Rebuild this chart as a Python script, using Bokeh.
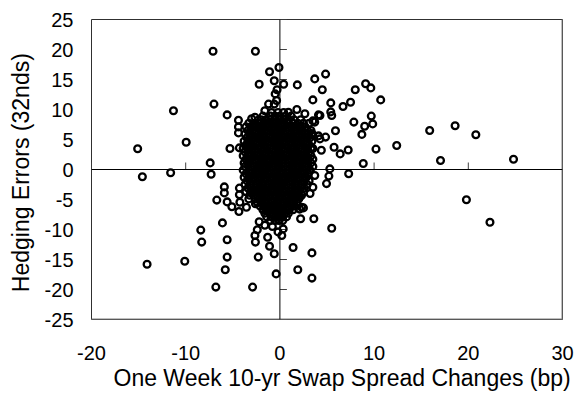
from bokeh.plotting import figure
from bokeh.models import FixedTicker, Span, ColumnDataSource, Title
from bokeh.embed import file_html
from bokeh.resources import INLINE

# ---- data ----
x_ticks = [-20, -10, 0, 10, 20, 30]
y_ticks = [-25, -20, -15, -10, -5, 0, 5, 10, 15, 20, 25]
x_title = "One Week 10-yr Swap Spread Changes (bp)"
y_title = "Hedging Errors  (32nds)"

outer_x = [-7.1, -2.6, -0.1, -1.1, 4.85, 3.7, -2.2, -0.6, 0.4, 1.85,
           9.1, 9.65, 8.0, 4.5, -0.3, 10.7, 3.5, 5.4, 7.5, 6.7,
           -7.0, 5.4, 5.5, -11.3, -5.6, -4.4, -4.4, -4.4, -9.95, -15.1,
           -5.3, -4.3, -7.4, -14.6, -11.6, -7.3, -5.9, -5.9, -4.3, -4.3,
           -6.7, -5.6, -5.1, -4.35, -6.1, -8.4, -8.3, -5.6, -5.6, -5.8,
           -10.1, -14.1, -6.8, 1.8, 2.65, 4.1, 3.5, 7.85, 9.7, 9.85,
           9.0, 8.7, 5.9, 4.1, 4.85, 5.75, 7.25, 6.4, 10.2, 8.85,
           7.3, 5.2, 5.3, 15.9, 12.4, 17.05, 18.6, 20.8, 24.8, 19.8,
           22.3, 4.95, 3.5, 3.2, 3.6, 5.5, 2.5, 2.2, 3.4, 3.4,
           1.9, 1.4, -0.4, -2.9, -2.3, -0.6, -1.1, -1.3, -2.6, -2.65,
           -2.4, -2.2, 0.2, 0.35, -0.2, -0.8, -1.6, 2.1, 2.3, 2.1,
           3.7, -4.25, -3.55, -2.6, -0.5, -0.35, -0.6, -1.2, -1.6, 0.9,
           -3.0, -2.65, -2.3, -2.85, -1.95, 3.7, 4.25, 3.5, 4.25, -3.4,
           4.4, 3.4, 3.5]
outer_y = [19.7, 19.7, 17.0, 16.3, 15.9, 15.1, 14.2, 14.8, 14.2, 14.1,
           14.3, 13.6, 13.3, 13.3, 13.3, 11.6, 11.6, 11.1, 11.2, 10.5,
           10.9, 9.6, 9.0, 9.8, 9.1, 8.2, 7.1, 6.1, 4.55, 3.45,
           3.5, 3.6, 1.1, -1.2, -0.55, -0.8, -2.9, -3.9, -3.1, -4.2,
           -5.1, -5.4, -6.2, -7.0, -8.9, -10.1, -12.1, -11.7, -14.6, -16.7,
           -15.3, -15.8, -19.6, 10.0, 9.3, 9.1, 8.1, 7.9, 8.9, 7.6,
           7.2, 5.85, 6.45, 5.6, 5.4, 3.7, 3.25, 2.6, 3.4, 1.0,
           -0.7, -1.1, 0.1, 6.5, 4.0, 1.5, 7.3, 5.8, 1.7, -5.05,
           -8.8, -2.35, -2.95, -4.0, -8.2, -9.8, -6.4, -8.2, -13.9, -18.1,
           -16.7, -13.0, -17.4, -19.6, -14.6, -14.05, -12.8, -11.3, -12.1, -11.0,
           -10.05, -8.7, -11.0, -9.9, -10.4, -9.5, -9.3, -6.6, -6.3, -4.6,
           -1.0, -5.45, -6.3, -5.7, 12.6, 11.5, 10.9, 10.9, 9.8, 9.55,
           8.45, 8.7, 8.2, 7.3, 7.05, 7.9, 9.0, 5.7, 5.1, 4.3,
           3.2, 6.0, 3.5]

# dense core: one y level per row, with the x values read along that row
core_levels = [9.5, 8.9, 8.3, 7.7, 7.1, 6.5, 5.9,
               5.3, 4.7, 4.1, 3.5, 2.9, 2.3, 1.7, 1.1, 0.5, -0.1,
               -0.7, -1.3, -1.9, -2.5, -3.1, -3.7, -4.3, -4.9, -5.5, -6.1,
               -6.7, -7.3, -7.9, -8.5]
core_rows = [
    [-0.9, -0.2, 0.4],
    [-1.8, -1.0, -0.5, 0.0, 0.6, 1.2],
    [-2.0, -1.5, -1.0, -0.6, -0.1, 0.4, 0.9, 1.5, 2.2],
    [-3.3, -2.6, -2.1, -1.7, -1.2, -0.8, -0.4, 0.1, 0.5, 0.9, 1.4, 1.9, 2.5, 3.1],
    [-3.6, -3.1, -2.6, -2.2, -1.8, -1.3, -0.9, -0.5, -0.1, 0.3, 0.8, 1.2, 1.7, 2.2, 2.7],
    [-3.4, -2.9, -2.5, -2.0, -1.6, -1.2, -0.7, -0.3, 0.1, 0.6, 1.0, 1.5, 1.9, 2.4, 2.9, 3.3],
    [-3.7, -3.2, -2.7, -2.3, -1.8, -1.4, -1.0, -0.5, -0.1, 0.4, 0.8, 1.2, 1.7, 2.1, 2.6, 3.0],
    [-3.5, -3.0, -2.6, -2.1, -1.7, -1.2, -0.8, -0.4, 0.0, 0.5, 0.9, 1.4, 1.8, 2.3, 2.8, 3.2],
    [-3.8, -3.3, -2.8, -2.4, -1.9, -1.5, -1.1, -0.6, -0.2, 0.3, 0.7, 1.1, 1.6, 2.0, 2.5, 2.9, 3.4],
    [-3.6, -3.1, -2.6, -2.2, -1.7, -1.3, -0.9, -0.4, 0.0, 0.5, 0.9, 1.3, 1.8, 2.2, 2.7, 3.1],
    [-3.9, -3.4, -2.9, -2.4, -2.0, -1.6, -1.1, -0.7, -0.2, 0.2, 0.6, 1.1, 1.5, 2.0, 2.4, 2.9, 3.3],
    [-3.7, -3.2, -2.7, -2.3, -1.8, -1.4, -0.9, -0.5, -0.1, 0.4, 0.8, 1.3, 1.7, 2.2, 2.6, 3.1],
    [-3.9, -3.4, -3.0, -2.5, -2.1, -1.6, -1.2, -0.8, -0.3, 0.1, 0.6, 1.0, 1.4, 1.9, 2.3, 2.8, 3.3],
    [-3.6, -3.2, -2.7, -2.3, -1.8, -1.4, -1.0, -0.5, -0.1, 0.3, 0.8, 1.2, 1.6, 2.1, 2.5, 3.0, 3.5],
    [-3.8, -3.4, -2.9, -2.5, -2.0, -1.6, -1.2, -0.7, -0.3, 0.2, 0.6, 1.0, 1.5, 1.9, 2.4, 2.8, 3.3],
    [-3.7, -3.1, -2.7, -2.2, -1.8, -1.4, -0.9, -0.5, -0.1, 0.4, 0.8, 1.3, 1.7, 2.1, 2.6, 3.0, 3.5],
    [-3.9, -3.3, -2.9, -2.4, -2.0, -1.6, -1.1, -0.7, -0.3, 0.2, 0.6, 1.0, 1.5, 1.9, 2.4, 2.8, 3.2],
    [-3.6, -3.1, -2.6, -2.2, -1.8, -1.3, -0.9, -0.5, 0.0, 0.4, 0.8, 1.3, 1.7, 2.2, 2.6, 3.0],
    [-3.8, -3.3, -2.8, -2.4, -2.0, -1.5, -1.1, -0.7, -0.2, 0.2, 0.6, 1.1, 1.5, 2.0, 2.4, 2.8],
    [-3.5, -3.0, -2.6, -2.2, -1.7, -1.3, -0.9, -0.4, 0.0, 0.4, 0.9, 1.3, 1.8, 2.2, 2.6, 3.1],
    [-3.7, -3.2, -2.8, -2.4, -1.9, -1.5, -1.1, -0.6, -0.2, 0.2, 0.7, 1.1, 1.6, 2.0, 2.4, 2.9],
    [-3.4, -3.0, -2.6, -2.1, -1.7, -1.3, -0.8, -0.4, 0.0, 0.5, 0.9, 1.3, 1.8, 2.2, 2.6],
    [-3.6, -3.1, -2.7, -2.3, -1.9, -1.5, -1.0, -0.6, -0.2, 0.3, 0.7, 1.1, 1.6, 2.0, 2.5],
    [-3.2, -2.8, -2.4, -2.0, -1.6, -1.2, -0.8, -0.4, 0.1, 0.5, 0.9, 1.4, 1.8, 2.3],
    [-3.3, -2.6, -2.2, -1.8, -1.4, -1.0, -0.6, -0.1, 0.3, 0.7, 1.2, 1.6, 2.0],
    [-2.4, -2.0, -1.6, -1.2, -0.8, -0.3, 0.1, 0.5, 1.0, 1.4, 1.8],
    [-2.1, -1.7, -1.3, -0.9, -0.5, -0.1, 0.3, 0.8, 1.2, 1.6],
    [-1.8, -1.4, -1.0, -0.6, -0.2, 0.2, 0.6, 1.0, 1.4],
    [-1.6, -1.1, -0.7, -0.3, 0.1, 0.5, 0.9],
    [-1.4, -0.9, -0.5, -0.1, 0.3, 0.7],
    [-1.0, -0.5, -0.1, 0.3],
]

core_x = [x for row in core_rows for x in row]
core_y = [lev for lev, row in zip(core_levels, core_rows) for _ in row]

all_x = core_x + outer_x
all_y = core_y + outer_y

FONT = "Liberation Sans"
FRAME_W, FRAME_H = 471, 300

p = figure(frame_width=FRAME_W, frame_height=FRAME_H, x_range=(-20, 30), y_range=(-25, 25),
           output_backend="svg", toolbar_location=None,
           min_border_left=91, min_border_right=12, min_border_top=19, min_border_bottom=79)

p.xgrid.visible = False
p.ygrid.visible = False
p.background_fill_color = "white"
p.border_fill_color = "white"
p.outline_line_color = "#303030"
p.outline_line_width = 1

for ax in (p.xaxis[0], p.yaxis[0]):
    ax.axis_line_color = None
    ax.major_tick_line_color = None
    ax.minor_tick_line_color = None
    ax.major_tick_in = 0
    ax.major_tick_out = 0
    ax.major_label_text_font = FONT
    ax.major_label_text_font_size = "20px"
    ax.major_label_text_color = "black"
    ax.axis_label_text_font = FONT
    ax.axis_label_text_font_size = "23px"
    ax.axis_label_text_font_style = "normal"
    ax.axis_label_text_color = "black"

p.xaxis.ticker = FixedTicker(ticks=x_ticks)
p.yaxis.ticker = FixedTicker(ticks=y_ticks)
p.xaxis.major_label_overrides = {t: str(t) for t in x_ticks}
p.yaxis.major_label_overrides = {t: str(t) for t in y_ticks}
p.xaxis.major_label_standoff = 26
p.yaxis.major_label_standoff = 18
p.yaxis.axis_label = y_title
p.yaxis.axis_label_standoff = 8

# x-axis title, set slightly right of centre as in the reference
p.add_layout(Title(text=x_title, align="left", offset=22, standoff=0,
                   text_font=FONT, text_font_size="23px", text_font_style="normal",
                   text_color="black"), "below")

# heavier grey right / bottom edge of the plot area
p.add_layout(Span(location=30, dimension="height", line_color="#808080", line_width=2))
p.add_layout(Span(location=-25, dimension="width", line_color="#808080", line_width=2))

# zero axes
p.add_layout(Span(location=0, dimension="height", line_color="black", line_width=1))
p.add_layout(Span(location=0, dimension="width", line_color="black", line_width=1))

# small tick marks on the zero axes (7 px long)
px_per_x = FRAME_W / 50.0
px_per_y = FRAME_H / 50.0
tx = [t for t in x_ticks if t != 0]
p.segment(x0=tx, y0=[0] * len(tx), x1=tx, y1=[7 / px_per_y] * len(tx),
          line_color="#404040", line_width=1)
ty = [t for t in y_ticks if t != 0]
p.segment(x0=[0] * len(ty), y0=ty, x1=[7 / px_per_x] * len(ty), y1=ty,
          line_color="#404040", line_width=1)

src = ColumnDataSource(data=dict(x=all_x, y=all_y))
p.scatter("x", "y", source=src, marker="circle", size=6.8, line_width=2.3,
          line_color="black", fill_color=None)

open("out.html", "w").write(file_html(p, INLINE))
